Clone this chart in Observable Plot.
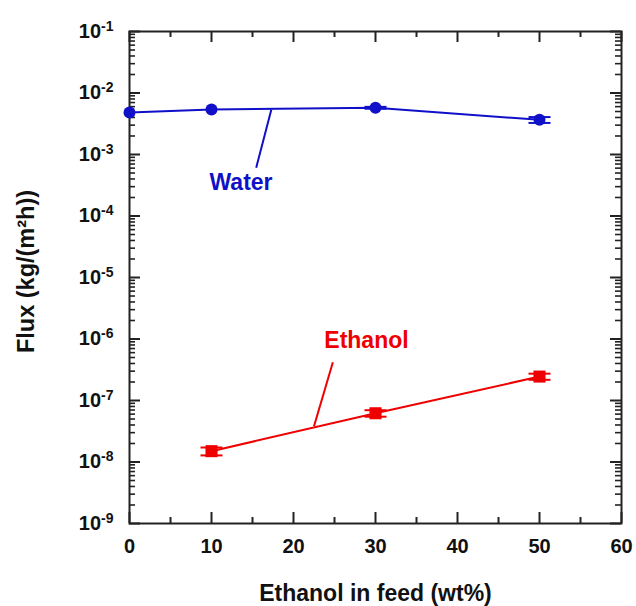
<!DOCTYPE html>
<html><head><meta charset="utf-8">
<script src="https://cdn.jsdelivr.net/npm/d3@7"></script>
<script src="https://cdn.jsdelivr.net/npm/@observablehq/plot@0.6"></script>
<style>
body{margin:0;background:#fff;}
svg{font-family:"Liberation Sans",Arial,sans-serif;}
</style>
</head><body><div id="chart"></div>
<script>
// Axis ticks
const xTickValues = [0, 10, 20, 30, 40, 50, 60];
const xMinorValues = [5, 15, 25, 35, 45, 55];
const yExponents = [-9, -8, -7, -6, -5, -4, -3, -2, -1];
const minorMultipliers = [2, 3, 4, 5, 6, 7, 8, 9];

// Water series
const waterFeed = [0, 10, 30, 50];
const waterFlux = [4.8e-3, 5.4e-3, 5.75e-3, 3.66e-3];
const waterErr = [0, 0, 0.2e-3, 0.4e-3];

// Ethanol series
const ethanolFeed = [10, 30, 50];
const ethanolFlux = [1.5e-8, 6.2e-8, 2.45e-7];
const ethanolErr = [0.22e-8, 0.75e-8, 0.28e-7];

// Annotations
const labelNames = ["Water", "Ethanol"];
const labelColors = ["#1010c8", "#ee0000"];
const labelX = [13.6, 28.9];
const labelY = [3.45e-4, 9.3e-7];
const leaderX1 = [17.3, 24.8];
const leaderY1 = [5.4e-3, 4.2e-7];
const leaderX2 = [15.45, 22.5];
const leaderY2 = [6.1e-4, 3.8e-8];

const xLabel = "Ethanol in feed (wt%)";
const yLabel = "Flux (kg/(m²h))";

const BLUE = "#1010c8", RED = "#ee0000", AX = "#222";
const W = 636, H = 606, mL = 129, mR = 15, mT = 31, mB = 83;
const pW = W - mL - mR, pH = H - mT - mB;

const yMajor = yExponents.map(e => Math.pow(10, e));
const yMinor = yExponents.slice(0, -1).flatMap(e => minorMultipliers.map(m => m * Math.pow(10, e)));

const water = waterFeed.map((x, i) => ({x, y: waterFlux[i], lo: waterFlux[i] - waterErr[i], hi: waterFlux[i] + waterErr[i]}));
const waterBars = water.filter(d => d.hi > d.lo);
const ethanol = ethanolFeed.map((x, i) => ({x, y: ethanolFlux[i], lo: ethanolFlux[i] - ethanolErr[i], hi: ethanolFlux[i] + ethanolErr[i]}));
const labels = labelNames.map((t, i) => ({t, x: labelX[i], y: labelY[i], c: labelColors[i]}));
const leaders = labelNames.map((t, i) => ({x1: leaderX1[i], y1: leaderY1[i], x2: leaderX2[i], y2: leaderY2[i], c: labelColors[i]}));

const capSymbol = {draw(ctx, size) { const w = 11; ctx.moveTo(-w, 0); ctx.lineTo(w, 0); }};

const tickMarks = [
  Plot.tickX(xTickValues, {x: d => d, insetTop: pH - 11, stroke: AX, strokeWidth: 2}),
  Plot.tickX(xTickValues, {x: d => d, insetBottom: pH - 11, stroke: AX, strokeWidth: 2}),
  Plot.tickX(xMinorValues, {x: d => d, insetTop: pH - 6, stroke: AX, strokeWidth: 2}),
  Plot.tickX(xMinorValues, {x: d => d, insetBottom: pH - 6, stroke: AX, strokeWidth: 2}),
  Plot.tickY(yMajor, {y: d => d, insetRight: pW - 11, stroke: AX, strokeWidth: 2}),
  Plot.tickY(yMajor, {y: d => d, insetLeft: pW - 11, stroke: AX, strokeWidth: 2}),
  Plot.tickY(yMinor, {y: d => d, insetRight: pW - 6, stroke: AX, strokeWidth: 1.6}),
  Plot.tickY(yMinor, {y: d => d, insetLeft: pW - 6, stroke: AX, strokeWidth: 1.6})
];

const chart = Plot.plot({
  width: W, height: H,
  marginLeft: mL, marginRight: mR, marginTop: mT, marginBottom: mB,
  style: {fontFamily: '"Liberation Sans", Arial, sans-serif', background: "#fff", overflow: "visible"},
  x: {domain: [0, 60]},
  y: {type: "log", domain: [1e-9, 1e-1]},
  marks: [
    ...tickMarks,
    Plot.frame({stroke: AX, strokeWidth: 2}),
    Plot.axisX(xTickValues, {tickSize: 0, tickPadding: 15, fontSize: 20, fontWeight: "bold", label: null, fill: "#111"}),
    Plot.axisY(yMajor, {tickSize: 0, tickPadding: 16, fontSize: 20, fontWeight: "bold", label: null, fill: "#111",
      tickFormat: d => "10^" + Math.round(Math.log10(d))}),
    // water
    Plot.line(water, {x: "x", y: "y", stroke: BLUE, strokeWidth: 2}),
    Plot.ruleX(waterBars, {x: "x", y1: "lo", y2: "hi", stroke: BLUE, strokeWidth: 2}),
    Plot.dot(waterBars, {x: "x", y: "lo", symbol: capSymbol, stroke: BLUE, strokeWidth: 2}),
    Plot.dot(waterBars, {x: "x", y: "hi", symbol: capSymbol, stroke: BLUE, strokeWidth: 2}),
    Plot.dot(water, {x: "x", y: "y", r: 6, fill: BLUE, symbol: "circle"}),
    // ethanol
    Plot.line(ethanol, {x: "x", y: "y", stroke: RED, strokeWidth: 2}),
    Plot.ruleX(ethanol, {x: "x", y1: "lo", y2: "hi", stroke: RED, strokeWidth: 2}),
    Plot.dot(ethanol, {x: "x", y: "lo", symbol: capSymbol, stroke: RED, strokeWidth: 2}),
    Plot.dot(ethanol, {x: "x", y: "hi", symbol: capSymbol, stroke: RED, strokeWidth: 2}),
    Plot.dot(ethanol, {x: "x", y: "y", r: 6.8, fill: RED, symbol: "square"}),
    // annotations
    Plot.link(leaders, {x1: "x1", y1: "y1", x2: "x2", y2: "y2", stroke: "c", strokeWidth: 2}),
    Plot.text(labels, {x: "x", y: "y", text: "t", fill: "c", fontSize: 23, fontWeight: "bold"}),
    // axis titles
    Plot.text([xLabel], {frameAnchor: "bottom", lineAnchor: "middle", textAnchor: "middle", dy: 70, fontSize: 23, fontWeight: "bold", fill: "#111"}),
    Plot.text([yLabel], {frameAnchor: "left", lineAnchor: "middle", textAnchor: "middle", dx: -103, dy: -6, rotate: -90, fontSize: 23.5, fontWeight: "bold", fill: "#111"})
  ]
});

d3.select(chart).selectAll('g[aria-label="y-axis tick label"] text').each(function() {
  const parts = this.textContent.split("^");
  const sel = d3.select(this);
  sel.text(parts[0]);
  sel.append("tspan").attr("dy", "-0.5em").attr("font-size", 14).text(parts[1]);
});

document.getElementById("chart").appendChild(chart);
</script>
</body></html>
